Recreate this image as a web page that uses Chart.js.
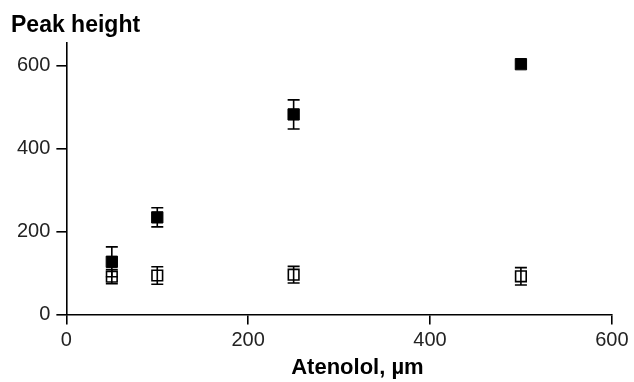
<!DOCTYPE html>
<html>
<head>
<meta charset="utf-8">
<script src="https://cdn.jsdelivr.net/npm/chart.js@4.4.1/dist/chart.umd.min.js"></script>
<style>
  html, body { margin: 0; padding: 0; background: #fff; }
  #wrap { width: 634px; height: 382px; }
</style>
</head>
<body>
<div id="wrap"><canvas id="chart"></canvas></div>
<script>
// Datos
const atenolol = [50, 100, 250, 500];
const filledVals = [127, 234, 482, 603];
const filledErr = [36, 23, 35, 0];
const openVals = [91, 94, 96, 92];
const openErr = [17, 21, 20, 21];
const yTicks = [0, 200, 400, 600];
const xTicks = [0, 200, 400, 600];

// Barras de error dibujadas con las escalas del grafico
const errorBars = {
  id: 'errorBars',
  beforeDatasetsDraw(chart) {
    const ctx = chart.ctx;
    const xs = chart.scales.x, ys = chart.scales.y;
    ctx.save();
    ctx.strokeStyle = '#000';
    ctx.lineWidth = 1.6;
    chart.data.datasets.forEach(ds => {
      ds.data.forEach((p, i) => {
        const e = ds.err[i];
        if (!e) return;
        const px = xs.getPixelForValue(p.x);
        const top = ys.getPixelForValue(p.y + e);
        const bot = ys.getPixelForValue(p.y - e);
        ctx.beginPath();
        ctx.moveTo(px, top); ctx.lineTo(px, bot);
        ctx.moveTo(px - 6, top); ctx.lineTo(px + 6, top);
        ctx.moveTo(px - 6, bot); ctx.lineTo(px + 6, bot);
        ctx.stroke();
      });
    });
    ctx.restore();
  }
};

const toPts = vals => vals.map((v, i) => ({ x: atenolol[i], y: v }));

const ctx = document.getElementById('chart').getContext('2d');
new Chart(ctx, {
  type: 'scatter',
  data: {
    datasets: [
      {
        label: 'filled',
        data: toPts(filledVals),
        err: filledErr,
        pointStyle: 'rect',
        pointRadius: 8,
        backgroundColor: '#000',
        borderColor: '#000',
        borderWidth: 1
      },
      {
        label: 'open',
        data: toPts(openVals),
        err: openErr,
        pointStyle: 'rect',
        pointRadius: 7.5,
        backgroundColor: 'rgba(255,255,255,0)',
        borderColor: '#000',
        borderWidth: 1.6
      }
    ]
  },
  options: {
    responsive: true,
    maintainAspectRatio: false,
    animation: false,
    layout: { padding: { left: 11, right: 0, top: 4, bottom: 0 } },
    plugins: {
      legend: { display: false },
      tooltip: { enabled: false },
      title: {
        display: true,
        text: 'Peak height',
        align: 'start',
        color: '#000',
        font: { family: 'Liberation Sans', size: 23, weight: 'bold' },
        padding: { top: 8, bottom: 3 }
      }
    },
    scales: {
      x: {
        type: 'linear',
        min: 0,
        max: 600,
        afterBuildTicks: s => { s.ticks = xTicks.map(v => ({ value: v })); },
        border: { display: true, color: '#000', width: 1.6 },
        grid: { drawOnChartArea: false, drawTicks: true, tickLength: 10, color: '#000', lineWidth: 1.6 },
        ticks: { color: '#222', padding: 5.5, maxRotation: 0, font: { family: 'Liberation Sans', size: 20, lineHeight: 1.0 } },
        title: {
          display: true,
          text: '\u00A0\u00A0\u00A0\u00A0\u00A0\u00A0Atenolol, µm',
          color: '#000',
          font: { family: 'Liberation Sans', size: 22, weight: 'bold', lineHeight: 1.0 },
          padding: { top: 1.5, bottom: 3 }
        }
      },
      y: {
        type: 'linear',
        min: 0,
        max: 655,
        afterBuildTicks: s => { s.ticks = yTicks.map(v => ({ value: v })); },
        border: { display: true, color: '#000', width: 1.6 },
        grid: { drawOnChartArea: false, drawTicks: true, tickLength: 10, color: '#000', lineWidth: 1.6 },
        ticks: { color: '#222', padding: 6, font: { family: 'Liberation Sans', size: 20 } }
      }
    }
  },
  plugins: [errorBars]
});
</script>
</body>
</html>
